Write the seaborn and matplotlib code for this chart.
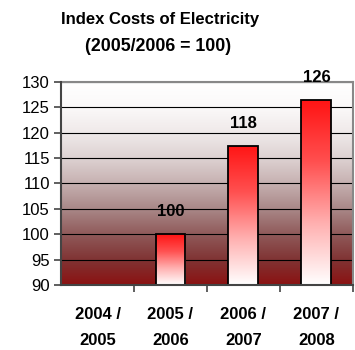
import numpy as np
import pandas as pd
import matplotlib
matplotlib.use("Agg")
import matplotlib.pyplot as plt
from matplotlib.colors import LinearSegmentedColormap
import seaborn as sns

periods = ["2004 /\n2005", "2005 /\n2006", "2006 /\n2007", "2007 /\n2008"]
index_values = [np.nan, 100.0, 117.4, 126.4]
value_labels = ["", "100", "118", "126"]
yticks = [90, 95, 100, 105, 110, 115, 120, 125, 130]

df = pd.DataFrame({"period": periods, "index": index_values})

sns.set_theme(style="white")
plt.rcParams["font.family"] = ["Liberation Sans", "DejaVu Sans"]
plt.rcParams["text.color"] = "black"
plt.rcParams["xtick.color"] = "black"
plt.rcParams["ytick.color"] = "black"

fig = plt.figure(figsize=(3.55, 3.5), dpi=100)
ax = fig.add_axes([0.172, 0.186, 0.822, 0.58])

sns.barplot(data=df, x="period", y="index", ax=ax, width=0.41,
            color="white", edgecolor="black", linewidth=1.3, zorder=3)

ax.set_ylim(90, 130)
ax.set_xlim(-0.5, 3.5)

# background gradient: white at top, dark red at bottom
bg_cmap = LinearSegmentedColormap.from_list("bg", [
    (0.0, "#8b1212"), (0.125, "#803434"), (0.25, "#905a5a"), (0.375, "#a98888"),
    (0.5, "#c6b0b0"), (0.625, "#ddd2d2"), (0.75, "#efe9e9"), (0.875, "#fbf9f9"),
    (1.0, "#ffffff")])
grad = np.linspace(0, 1, 256).reshape(-1, 1)
ax.imshow(grad, extent=(-0.5, 3.5, 90, 130), origin="lower", aspect="auto",
          cmap=bg_cmap, zorder=0)

# bar gradient: red at top, white at bottom
bar_cmap = LinearSegmentedColormap.from_list("bar", ["#ffffff", "#ffb0b0", "#ff5050", "#ff1414"])
for p in ax.patches:
    h = p.get_height()
    if np.isnan(h) or h <= 0:
        continue
    x0 = p.get_x()
    w = p.get_width()
    p.set_facecolor("none")
    im = ax.imshow(grad, extent=(x0, x0 + w, 90, p.get_y() + h), origin="lower",
                   aspect="auto", cmap=bar_cmap, zorder=2)
    im.set_clip_path(p)

for i, (v, lab) in enumerate(zip(index_values, value_labels)):
    if lab:
        ax.text(i, v + 2.9, lab, ha="center", va="bottom", fontsize=12,
                fontweight="bold", zorder=5)

ax.set_yticks(yticks)
ax.yaxis.grid(True, color="black", linewidth=0.8)
for gl in ax.get_ygridlines():
    gl.set_zorder(1)

ax.set_xlabel("")
ax.set_ylabel("")
ax.set_xticks(range(4))
ax.set_xticklabels(periods, fontsize=12, fontweight="bold", linespacing=1.9)
ax.set_xticks([0.5, 1.5, 2.5, 3.5], minor=True)
ax.tick_params(axis="x", which="major", length=0, pad=16)
ax.tick_params(axis="x", which="minor", length=5, width=1.2, color="#444444", direction="out", bottom=True)
ax.tick_params(axis="y", length=5, width=1.2, color="#444444", direction="out", left=True, labelsize=12, pad=3)

for side in ["top", "right"]:
    ax.spines[side].set_color("#888888")
    ax.spines[side].set_linewidth(1.5)
for side in ["left", "bottom"]:
    ax.spines[side].set_color("#444444")
    ax.spines[side].set_linewidth(1.5)
    ax.spines[side].set_zorder(6)

fig.text(0.451, 0.945, "Index Costs of Electricity", ha="center", va="center",
         fontsize=12, fontweight="bold")
fig.text(0.446, 0.866, "(2005/2006 = 100)", ha="center", va="center",
         fontsize=12.8, fontweight="bold")

fig.savefig("out.png", dpi=100)
